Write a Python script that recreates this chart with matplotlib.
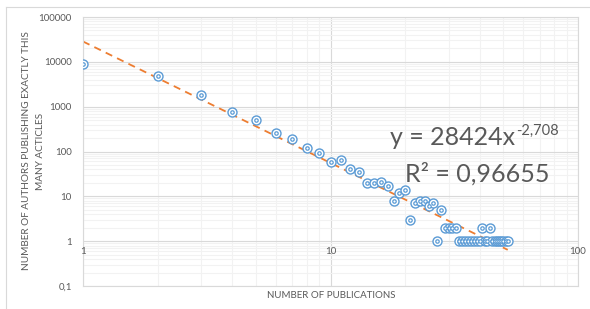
import matplotlib
matplotlib.use("Agg")
import matplotlib.pyplot as plt
from matplotlib.lines import Line2D
import numpy as np

plt.rcParams['font.family'] = ['Lato', 'DejaVu Sans']

# Data: number of publications vs number of authors
publications = [1, 2, 3, 4, 5, 6, 7, 8, 9, 10, 11, 12, 13, 14, 15, 16, 17, 18, 19, 20,
                21, 22, 23, 24, 25, 26, 27, 28, 29, 30, 31, 32, 33, 34, 35, 36, 37, 38,
                39, 40, 41, 42, 43, 44, 45, 46, 47, 48, 49, 50, 51, 52]
authors = [9000, 4900, 1820, 770, 500, 262, 191, 121, 92, 57, 63, 40, 35, 20, 20, 21, 16.6, 8, 12, 14,
           3, 7, 8, 8, 6, 7, 1, 5, 2, 2, 2, 2, 1, 1, 1, 1, 1, 1,
           1, 1, 2, 1, 1, 2, 1, 1, 1, 1, 1, 1, 1, 1]
fit_coef = 28424
fit_exp = -2.708
fit_coef_label = "28424"
fit_exp_label = "-2,708"
r_squared = "0,96655"

y_ticks = [0.1, 1, 10, 100, 1000, 10000, 100000]
y_tick_labels = ["0,1", "1", "10", "100", "1000", "10000", "100000"]
x_ticks = [1, 10, 100]
x_tick_labels = ["1", "10", "100"]

TXT = '#595959'
GRID = '#D9D9D9'
MINOR = '#F2F2F2'
BLUE = '#5B9BD5'
ORANGE = '#ED7D31'

fig = plt.figure(figsize=(5.9, 3.09), dpi=100)
W, H = 590, 309
ax = fig.add_axes([83 / W, 1 - 286 / H, (578 - 83) / W, (286 - 17) / H])

ax.set_xscale('log')
ax.set_yscale('log')
ax.set_xlim(1, 100)
ax.set_ylim(0.1, 100000)

# gridlines
ax.set_yticks(y_ticks)
ax.set_yticklabels(y_tick_labels)
ax.set_xticks(x_ticks)
ax.set_xticklabels([])
ax.xaxis.set_minor_locator(matplotlib.ticker.LogLocator(base=10, subs=np.arange(2, 10)))
ax.yaxis.set_minor_locator(matplotlib.ticker.LogLocator(base=10, subs=np.arange(2, 10), numticks=20))
ax.xaxis.set_minor_formatter(matplotlib.ticker.NullFormatter())
ax.yaxis.set_minor_formatter(matplotlib.ticker.NullFormatter())
ax.grid(which='minor', color=MINOR, lw=0.8, zorder=0)
ax.grid(which='major', color=GRID, lw=0.8, zorder=0)
ax.set_axisbelow(True)
ax.tick_params(which='both', length=0)
ax.tick_params(axis='y', labelsize=7, labelcolor=TXT, pad=8)
for s in ax.spines.values():
    s.set_color(GRID)
    s.set_linewidth(0.8)

# x tick labels placed just below the y=1 line (Excel axis crossing)
for xv, lbl in zip(x_ticks, x_tick_labels):
    ax.annotate(lbl, (xv, 1), xytext=(0, -4), textcoords='offset points',
                ha='center', va='top', fontsize=7, color=TXT)

# trendline
xs = np.logspace(np.log10(min(publications)), np.log10(max(publications)), 200)
ax.plot(xs, fit_coef * xs ** fit_exp, color=ORANGE, lw=1.3, ls=(0, (4, 3)), zorder=2)

# markers: circle with dot
ax.scatter(publications, authors, s=42, facecolor='white', edgecolor=BLUE, linewidth=1.0, zorder=3)
ax.scatter(publications, authors, s=6, facecolor='white', edgecolor=BLUE, linewidth=0.9, zorder=4)

# equation
t1 = fig.text(390 / W, 1 - 145 / H, "y = " + fit_coef_label + "x", fontsize=18, color=TXT,
              ha='left', va='baseline')
ax.annotate(fit_exp_label, xy=(1, 1), xycoords=t1, xytext=(0.5, 1.5), textcoords='offset points',
            fontsize=10.5, color=TXT, ha='left', va='top', annotation_clip=False)
fig.text(405 / W, 1 - 182 / H, "R² = " + r_squared, fontsize=18, color=TXT,
         ha='left', va='baseline')

# axis labels
fig.text(33.5 / W, 1 - 151 / H, "NUMBER OF AUTHORS PUBLISHING EXACTLY THIS\nMANY ACTICLES",
         rotation=90, ha='center', va='center', fontsize=7.2, color=TXT, linespacing=1.75,
         multialignment='center')
fig.text(331 / W, 1 - 296 / H, "NUMBER OF PUBLICATIONS", ha='center', va='center',
         fontsize=7, color=TXT)

# outer chart border (top and left visible)
fig.add_artist(Line2D([6 / W, 1], [1 - 7 / H, 1 - 7 / H], color=GRID, lw=0.8, transform=fig.transFigure))
fig.add_artist(Line2D([6 / W, 6 / W], [0, 1 - 7 / H], color=GRID, lw=0.8, transform=fig.transFigure))

fig.savefig('out.png', dpi=100)
